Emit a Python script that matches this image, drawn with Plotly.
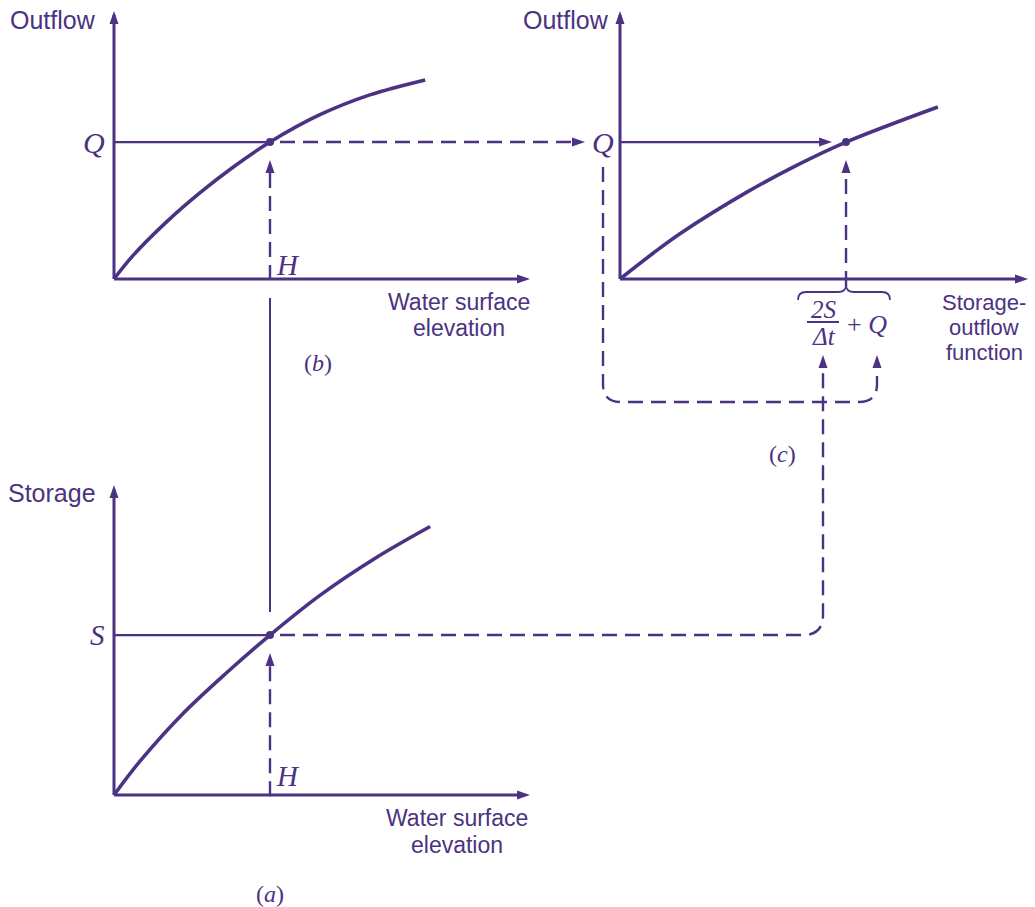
import plotly.graph_objects as go

W, H = 1035, 907
INK = "#4b3282"
SANS = "Liberation Sans, Arial, sans-serif"
SERIF = "Liberation Serif, Times New Roman, serif"

# Panel (a): storage against water surface elevation (relative units)
elev_a = [0.0, 0.0625, 0.166, 0.272, 0.375, 0.495, 0.627, 0.760]
storage_a = [0.0, 0.109, 0.263, 0.396, 0.516, 0.644, 0.763, 0.866]

# Panel (b): outflow against water surface elevation
elev_b = [0.0, 0.046, 0.127, 0.207, 0.286, 0.375, 0.495, 0.615, 0.748]
outflow_b = [0.0, 0.088, 0.214, 0.322, 0.417, 0.511, 0.613, 0.687, 0.743]

# Panel (c): outflow against the storage-outflow function 2S/dt + Q
sof_c = [0.0, 0.081, 0.147, 0.311, 0.434, 0.554, 0.779]
outflow_c = [0.0, 0.096, 0.169, 0.324, 0.425, 0.511, 0.642]

# One reading: elevation H gives storage S and outflow Q, hence 2S/dt + Q
H_elev = 0.375
S_stor = 0.516
Q_out = 0.511
SOF = 0.554

# Where each panel's origin sits on the page and how long its axes are (px)
PANELS = {
    "a": dict(ox=114, oy=795, lx=416, ly=310, xa="x", ya="y"),
    "b": dict(ox=114, oy=279, lx=416, ly=268, xa="x2", ya="y2"),
    "c": dict(ox=620, oy=279, lx=408, ly=268, xa="x3", ya="y3"),
}


def to_px(p, u, v):
    return p["ox"] + u * p["lx"], p["oy"] - v * p["ly"]


def to_units(p, x, y):
    return (x - p["ox"]) / p["lx"], (p["oy"] - y) / p["ly"]


def paper(x, y):
    return x / W, 1 - y / H


fig = go.Figure()
shapes, annotations = [], []


def line(p, us, vs, width=2.2, dash="solid", smooth=False):
    fig.add_trace(go.Scatter(
        x=us, y=vs, xaxis=p["xa"], yaxis=p["ya"], mode="lines",
        line=dict(color=INK, width=width, dash=dash,
                  shape="spline" if smooth else "linear"),
        hoverinfo="skip", showlegend=False))


def dot(p, u, v):
    fig.add_trace(go.Scatter(
        x=[u], y=[v], xaxis=p["xa"], yaxis=p["ya"], mode="markers",
        marker=dict(color=INK, size=8), hoverinfo="skip", showlegend=False))


def arrowhead(x, y, direction, length=13, half=4.5):
    if direction == "up":
        pts = [(x, y), (x - half, y + length), (x + half, y + length)]
    else:
        pts = [(x, y), (x - length, y - half), (x - length, y + half)]
    path = "M " + " L ".join("%.5f,%.5f" % paper(*pt) for pt in pts) + " Z"
    shapes.append(dict(type="path", xref="paper", yref="paper", path=path,
                       fillcolor=INK, line=dict(width=0), layer="above"))


def px_path(cmds, width=2.4, dash="15px,8px"):
    parts = []
    for cmd, *coords in cmds:
        xy = []
        for i in range(0, len(coords), 2):
            xy.append("%.5f,%.5f" % paper(coords[i], coords[i + 1]))
        parts.append(cmd + " " + " ".join(xy))
    shapes.append(dict(type="path", xref="paper", yref="paper",
                       path=" ".join(parts), line=dict(color=INK, width=width, dash=dash),
                       layer="above"))


def label(text, x, y, size, family=SANS, xanchor="center"):
    xp, yp = paper(x, y)
    annotations.append(dict(text=text, x=xp, y=yp, xref="paper", yref="paper",
                            showarrow=False, xanchor=xanchor, yanchor="middle",
                            font=dict(family=family, size=size, color=INK)))


DASH = "15px,8px"

# Axes of every panel, with arrowheads at the ends
for key, p in PANELS.items():
    line(p, [0, 0.985], [0, 0], width=3)
    line(p, [0, 0], [0, 0.985], width=3)
    tx, ty = to_px(p, 1, 0)
    arrowhead(tx, ty, "right")
    tx, ty = to_px(p, 0, 1)
    arrowhead(tx, ty, "up")

pa, pb, pc = PANELS["a"], PANELS["b"], PANELS["c"]

# Curves
line(pa, elev_a, storage_a, width=3.6, smooth=True)
line(pb, elev_b, outflow_b, width=3.6, smooth=True)
line(pc, sof_c, outflow_c, width=3.6, smooth=True)

# Panel (b): H up to the curve, across to Q
hx, qy = to_px(pb, H_elev, Q_out)
line(pb, [0, H_elev], [Q_out, Q_out], width=2.2)
_, base_v = to_units(pb, hx, qy + 30)
line(pb, [H_elev, H_elev], [-0.004, base_v], width=2.4, dash=DASH)
arrowhead(hx, qy + 18, "up")
# dashed transfer of Q across to panel (c)
q_tip = 585
u_tip, _ = to_units(pb, q_tip - 10, qy)
u_start, _ = to_units(pb, hx + 10, qy)
line(pb, [u_start, u_tip], [Q_out, Q_out], width=2.4, dash=DASH)
arrowhead(q_tip, qy, "right")
dot(pb, H_elev, Q_out)

# Panel (c): Q across to the curve, 2S/dt + Q up to the curve
sx, sy = to_px(pc, SOF, Q_out)
u_end, _ = to_units(pc, sx - 24, sy)
line(pc, [0, u_end], [Q_out, Q_out], width=2.2)
arrowhead(sx - 14, sy, "right")
_, v_base = to_units(pc, sx, sy + 30)
_, v_brace = to_units(pc, sx, 286)
line(pc, [SOF, SOF], [v_brace, v_base], width=2.4, dash=DASH)
arrowhead(sx, sy + 18, "up")
dot(pc, SOF, Q_out)

# Panel (a): H up to the curve, across to S
ax_, sy_a = to_px(pa, H_elev, S_stor)
line(pa, [0, H_elev], [S_stor, S_stor], width=2.2)
_, base_va = to_units(pa, ax_, sy_a + 30)
line(pa, [H_elev, H_elev], [-0.004, base_va], width=2.4, dash=DASH)
arrowhead(ax_, sy_a + 18, "up")
dot(pa, H_elev, S_stor)

# Same elevation H carried between panels (b) and (a)
_, v_top = to_units(pa, ax_, 298)
_, v_bot = to_units(pa, ax_, sy_a - 23)
line(pa, [H_elev, H_elev], [v_top, v_bot], width=2.0)

# Label positions in panel (c)
x_frac, x_plusq = 823, 877
y_tip = 355

# S carried from (a) into the 2S/dt term
px_path([("M", ax_ + 10, sy_a), ("L", x_frac - 20, sy_a),
         ("Q", x_frac, sy_a, x_frac, sy_a - 20), ("L", x_frac, y_tip + 12)])
arrowhead(x_frac, y_tip, "up")

# Q carried from (c) axis into the + Q term
q_lab_x, y_loop = 603, 402
px_path([("M", q_lab_x, 167), ("L", q_lab_x, y_loop - 18),
         ("Q", q_lab_x, y_loop, q_lab_x + 18, y_loop), ("L", x_plusq - 18, y_loop),
         ("Q", x_plusq, y_loop, x_plusq, y_loop - 18), ("L", x_plusq, y_tip + 12)])
arrowhead(x_plusq, y_tip, "up")

# Brace above 2S/dt + Q and the fraction bar
px_path([("M", 798, 300), ("Q", 798, 292, 806, 292), ("L", sx - 8, 292),
         ("Q", sx, 292, sx, 285), ("Q", sx, 292, sx + 8, 292), ("L", 882, 292),
         ("Q", 890, 292, 890, 300)], width=1.8, dash="solid")
px_path([("M", 807, 322), ("L", 839, 322)], width=1.8, dash="solid")

# Text
label("Outflow", 98, 20, 25, xanchor="right")
label("<i>Q</i>", 94, 142, 30, SERIF)
label("<i>H</i>", 288, 265, 29, SERIF)
label("Water surface", 459, 302, 23)
label("elevation", 459, 328, 23)
label("(<i>b</i>)", 318, 363, 24, SERIF)

label("Outflow", 611, 20, 25, xanchor="right")
label("<i>Q</i>", 603, 142, 30, SERIF)
label("Storage-", 984, 302, 22)
label("outflow", 984, 327, 22)
label("function", 984, 352, 22)
label("<i>2S</i>", 824, 309, 25, SERIF)
label("<i>Δt</i>", 824, 336, 25, SERIF)
label("+ <i>Q</i>", 867, 324, 26, SERIF)
label("(<i>c</i>)", 782, 454, 24, SERIF)

label("Storage", 98, 493, 25, xanchor="right")
label("<i>S</i>", 97, 635, 29, SERIF)
label("<i>H</i>", 288, 776, 29, SERIF)
label("Water surface", 457, 818, 23)
label("elevation", 457, 845, 23)
label("(<i>a</i>)", 270, 894, 24, SERIF)

layout_axes = {}
for i, (key, p) in enumerate(PANELS.items()):
    sfx = "" if i == 0 else str(i + 1)
    xr = [-p["ox"] / p["lx"], (W - p["ox"]) / p["lx"]]
    yr = [(p["oy"] - H) / p["ly"], p["oy"] / p["ly"]]
    xa = dict(domain=[0, 1], range=xr, visible=False, fixedrange=True)
    ya = dict(domain=[0, 1], range=yr, visible=False, fixedrange=True)
    if i > 0:
        xa.update(overlaying="x", anchor="y" + sfx)
        ya.update(overlaying="y", anchor="x" + sfx)
    layout_axes["xaxis" + sfx] = xa
    layout_axes["yaxis" + sfx] = ya

fig.update_layout(
    width=W, height=H, margin=dict(l=0, r=0, t=0, b=0),
    paper_bgcolor="white", plot_bgcolor="rgba(0,0,0,0)",
    shapes=shapes, annotations=annotations, showlegend=False,
    **layout_axes,
)

fig.write_html("out.html", config={"displayModeBar": False})
